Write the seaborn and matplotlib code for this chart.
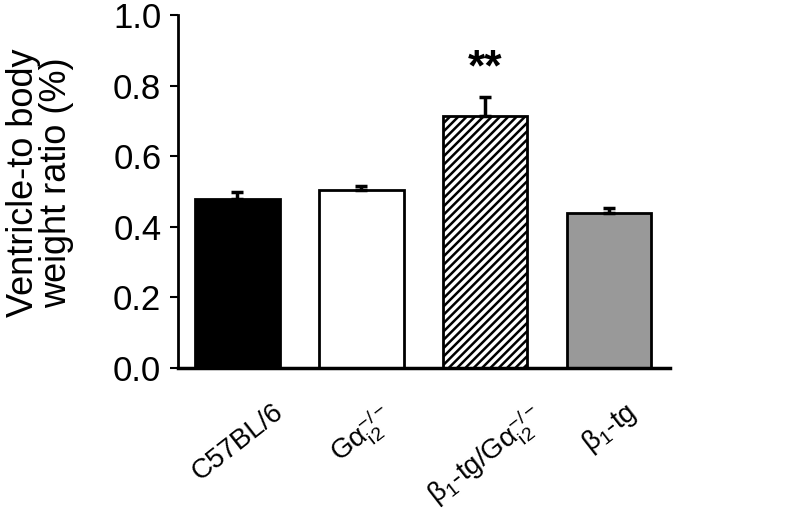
import pandas as pd
import matplotlib
matplotlib.use('Agg')
import matplotlib.pyplot as plt
import matplotlib.transforms as mtransforms
import seaborn as sns

# Data
groups = ['C57BL/6', 'Gai2-/-', 'b1-tg/Gai2-/-', 'b1-tg']
tick_labels = [r'C57BL/6',
               r'G$\mathregular{\alpha_{i2}^{-/-}}$',
               r'$\mathregular{\beta_1}$-tg/G$\mathregular{\alpha_{i2}^{-/-}}$',
               r'$\mathregular{\beta_1}$-tg']
ratio = [0.479, 0.503, 0.714, 0.440]
sem = [0.021, 0.014, 0.055, 0.012]
bar_colors = ['black', 'white', 'white', '#999999']
bar_hatch = [None, None, '////', None]

sns.set_style('white')
plt.rcParams['font.family'] = ['Liberation Sans', 'DejaVu Sans']
plt.rcParams['mathtext.fontset'] = 'custom'
plt.rcParams['mathtext.rm'] = 'Liberation Sans'
plt.rcParams['mathtext.it'] = 'Liberation Sans'
plt.rcParams['hatch.linewidth'] = 1.8
plt.rcParams['text.color'] = 'black'

df = pd.DataFrame({'group': groups, 'ratio': ratio})

fig = plt.figure(figsize=(8, 5.17), dpi=100)
ax = fig.add_axes([0.2225, 0.288, 0.615, 0.683])

sns.barplot(data=df, x='group', y='ratio', order=groups, width=0.68,
            color='white', edgecolor='black', linewidth=2, ax=ax)
for patch, c, h in zip(ax.patches, bar_colors, bar_hatch):
    patch.set_facecolor(c)
    patch.set_edgecolor('black')
    if h:
        patch.set_hatch(h)

# upper error bars only
ax.errorbar(range(len(groups)), ratio, yerr=[[0] * len(sem), sem], fmt='none',
            ecolor='black', elinewidth=2.5, capsize=4, capthick=2.5)

ax.text(2, 0.79, '**', ha='center', va='bottom', fontsize=32, fontweight='bold')

ax.set_ylim(0, 1.0)
ax.set_xlim(-0.48, 3.49)
ax.set_yticks([0.0, 0.2, 0.4, 0.6, 0.8, 1.0])
ax.set_yticklabels(['0.0', '0.2', '0.4', '0.6', '0.8', '1.0'])
ax.set_xticks(range(len(groups)))
ax.set_xticklabels(tick_labels, rotation=38, ha='center')
offset = mtransforms.ScaledTranslation(12 / 72, 0, fig.dpi_scale_trans)
for lab in ax.get_xticklabels():
    lab.set_transform(lab.get_transform() + offset)
ax.set_xlabel('')
ax.set_ylabel('Ventricle-to body\nweight ratio (%)', fontsize=26, linespacing=0.92,
              color='black', ha='center', va='center')
ax.yaxis.set_label_coords(-0.28, 0.524)

ax.tick_params(axis='y', direction='out', length=6, width=1.5, labelsize=25, pad=6,
               left=True, colors='black')
ax.tick_params(axis='x', length=0, labelsize=20, pad=22, colors='black')
sns.despine(ax=ax)
ax.spines['left'].set_linewidth(2)
ax.spines['bottom'].set_linewidth(2.5)
ax.spines['left'].set_color('black')
ax.spines['bottom'].set_color('black')

fig.savefig('out.png', dpi=100)
plt.close()
